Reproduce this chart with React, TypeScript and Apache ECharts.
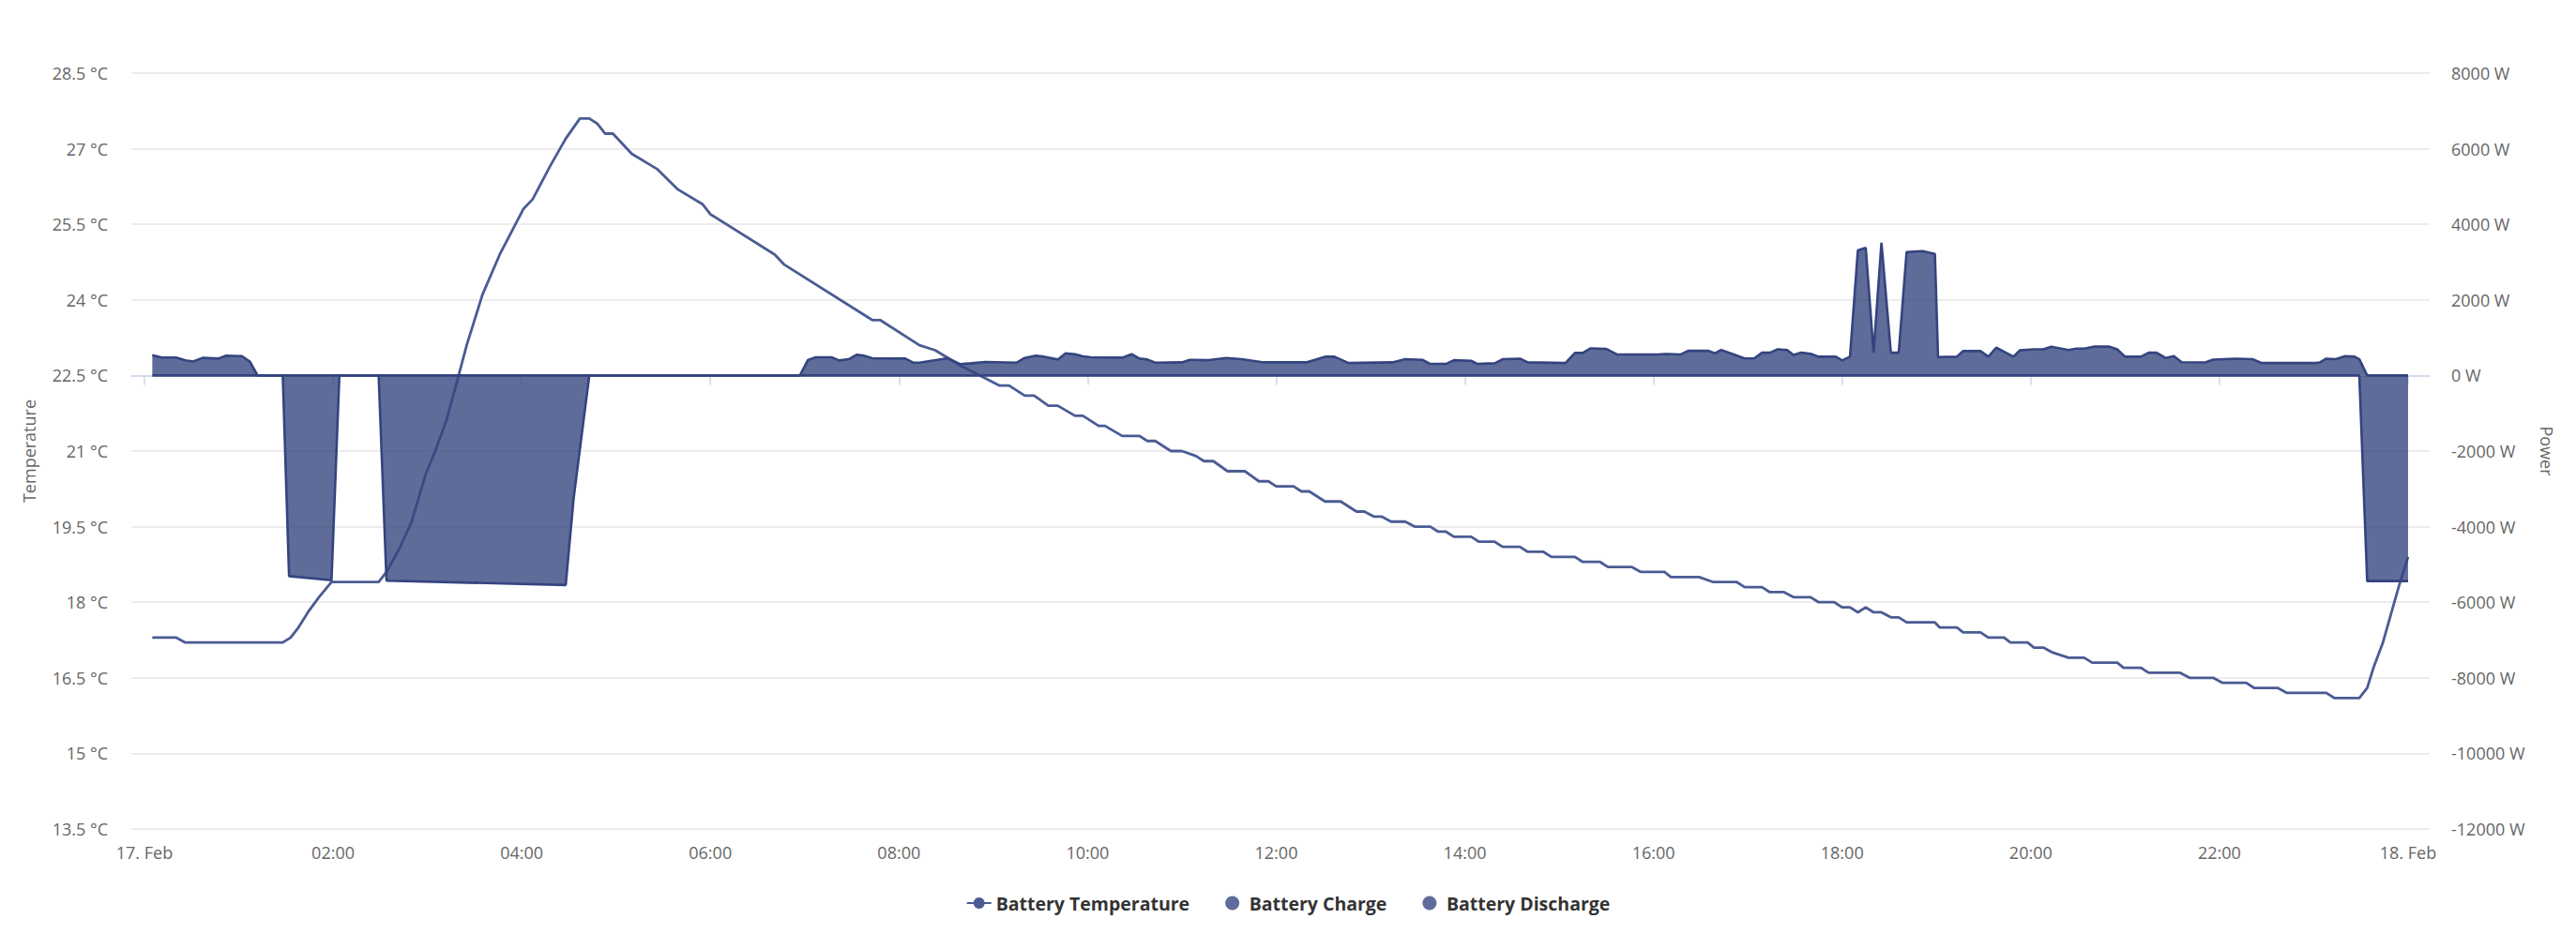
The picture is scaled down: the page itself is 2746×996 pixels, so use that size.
import React, { useEffect, useRef } from "react";
import * as echarts from "echarts";

// Battery temperature readings (time of day, °C)
const temperatureReadings: [string, number][] = [
  ["00:05", 17.3], ["00:20", 17.3], ["00:26", 17.2], ["01:28", 17.2], ["01:33", 17.3],
  ["01:38", 17.5], ["01:44", 17.8], ["01:51", 18.1], ["01:59", 18.4], ["02:29", 18.4],
  ["02:34", 18.6], ["02:42", 19.05], ["02:50", 19.6], ["02:59", 20.55], ["03:05", 21.0],
  ["03:12", 21.6], ["03:19", 22.4], ["03:25", 23.1], ["03:35", 24.1], ["03:46", 24.9],
  ["04:01", 25.8], ["04:07", 26.0], ["04:18", 26.65], ["04:28", 27.2], ["04:37", 27.6],
  ["04:43", 27.6], ["04:48", 27.5], ["04:53", 27.3], ["04:58", 27.3], ["05:10", 26.9],
  ["05:26", 26.6], ["05:39", 26.2], ["05:55", 25.9], ["06:00", 25.7], ["06:41", 24.9],
  ["06:47", 24.7], ["07:43", 23.6], ["07:48", 23.6], ["08:13", 23.1], ["08:23", 23.0],
  ["08:39", 22.7], ["09:04", 22.3], ["09:10", 22.3], ["09:20", 22.1], ["09:26", 22.1],
  ["09:35", 21.9], ["09:41", 21.9], ["09:52", 21.7], ["09:57", 21.7], ["10:07", 21.5],
  ["10:11", 21.5], ["10:22", 21.3], ["10:33", 21.3], ["10:38", 21.2], ["10:43", 21.2],
  ["10:53", 21.0], ["11:00", 21.0], ["11:09", 20.9], ["11:14", 20.8], ["11:20", 20.8],
  ["11:29", 20.6], ["11:40", 20.6], ["11:49", 20.4], ["11:55", 20.4], ["12:00", 20.3],
  ["12:11", 20.3], ["12:16", 20.2], ["12:21", 20.2], ["12:31", 20.0], ["12:41", 20.0],
  ["12:51", 19.8], ["12:56", 19.8], ["13:02", 19.7], ["13:07", 19.7], ["13:13", 19.6],
  ["13:22", 19.6], ["13:28", 19.5], ["13:38", 19.5], ["13:43", 19.4], ["13:48", 19.4],
  ["13:53", 19.3], ["14:04", 19.3], ["14:09", 19.2], ["14:19", 19.2], ["14:24", 19.1],
  ["14:35", 19.1], ["14:40", 19.0], ["14:50", 19.0], ["14:55", 18.9], ["15:10", 18.9],
  ["15:15", 18.8], ["15:26", 18.8], ["15:31", 18.7], ["15:46", 18.7], ["15:52", 18.6],
  ["16:07", 18.6], ["16:11", 18.5], ["16:29", 18.5], ["16:38", 18.4], ["16:53", 18.4],
  ["16:58", 18.3], ["17:09", 18.3], ["17:14", 18.2], ["17:23", 18.2], ["17:29", 18.1],
  ["17:40", 18.1], ["17:45", 18.0], ["17:55", 18.0], ["18:00", 17.9], ["18:05", 17.9],
  ["18:10", 17.8], ["18:15", 17.9], ["18:20", 17.8], ["18:25", 17.8], ["18:31", 17.7],
  ["18:36", 17.7], ["18:41", 17.6], ["18:59", 17.6], ["19:02", 17.5], ["19:13", 17.5],
  ["19:17", 17.4], ["19:28", 17.4], ["19:33", 17.3], ["19:43", 17.3], ["19:47", 17.2],
  ["19:58", 17.2], ["20:02", 17.1], ["20:08", 17.1], ["20:14", 17.0], ["20:24", 16.9],
  ["20:34", 16.9], ["20:39", 16.8], ["20:55", 16.8], ["20:59", 16.7], ["21:10", 16.7],
  ["21:15", 16.6], ["21:35", 16.6], ["21:41", 16.5], ["21:56", 16.5], ["22:02", 16.4],
  ["22:17", 16.4], ["22:22", 16.3], ["22:37", 16.3], ["22:43", 16.2], ["23:08", 16.2],
  ["23:13", 16.1], ["23:29", 16.1], ["23:34", 16.3], ["23:38", 16.7], ["23:44", 17.2],
  ["23:49", 17.75], ["23:54", 18.3], ["24:00", 18.9],
];

// Battery charge power (time of day, W)
const chargeReadings: [string, number][] = [
  ["00:05", 540], ["00:11", 475], ["00:20", 475], ["00:26", 400], ["00:31", 370],
  ["00:37", 466], ["00:47", 447], ["00:52", 523], ["01:02", 513], ["01:07", 370],
  ["01:12", 0], ["06:57", 0], ["07:02", 406], ["07:07", 480], ["07:17", 480],
  ["07:22", 397], ["07:28", 430], ["07:33", 547], ["07:37", 530], ["07:43", 455],
  ["08:04", 447], ["08:09", 340], ["08:13", 340], ["08:31", 455], ["08:39", 300],
  ["08:46", 323], ["08:55", 356], ["09:15", 340], ["09:20", 464], ["09:27", 522],
  ["09:31", 505], ["09:41", 422], ["09:46", 588], ["09:52", 563], ["09:57", 505],
  ["10:02", 480], ["10:22", 472], ["10:28", 563], ["10:33", 447], ["10:38", 422],
  ["10:43", 340], ["11:00", 347], ["11:05", 413], ["11:17", 405], ["11:28", 463],
  ["11:38", 430], ["11:52", 347], ["12:19", 347], ["12:31", 496], ["12:37", 496],
  ["12:46", 330], ["13:14", 347], ["13:22", 430], ["13:33", 413], ["13:38", 306],
  ["13:48", 306], ["13:53", 405], ["14:04", 388], ["14:08", 306], ["14:19", 322],
  ["14:24", 430], ["14:35", 446], ["14:40", 347], ["15:04", 330], ["15:10", 595],
  ["15:15", 595], ["15:20", 719], ["15:30", 702], ["15:37", 554], ["16:03", 554],
  ["16:07", 570], ["16:17", 554], ["16:22", 653], ["16:35", 653], ["16:39", 585],
  ["16:43", 674], ["16:49", 585], ["16:58", 452], ["17:04", 452], ["17:09", 603],
  ["17:14", 603], ["17:19", 692], ["17:25", 674], ["17:29", 541], ["17:34", 603],
  ["17:40", 576], ["17:45", 497], ["17:56", 497], ["18:00", 399], ["18:05", 497],
  ["18:10", 3308], ["18:15", 3379], ["18:20", 603], ["18:25", 3512], ["18:31", 603],
  ["18:36", 603], ["18:41", 3264], ["18:51", 3290], ["18:59", 3219], ["19:01", 488],
  ["19:13", 497], ["19:17", 647], ["19:28", 647], ["19:33", 497], ["19:38", 736],
  ["19:49", 497], ["19:53", 665], ["20:02", 692], ["20:08", 692], ["20:13", 763],
  ["20:24", 674], ["20:29", 710], ["20:34", 710], ["20:40", 763], ["20:50", 763],
  ["20:55", 692], ["21:00", 497], ["21:10", 497], ["21:15", 603], ["21:20", 603],
  ["21:26", 460], ["21:31", 513], ["21:36", 350], ["21:51", 345], ["21:56", 420],
  ["22:10", 445], ["22:21", 430], ["22:27", 330], ["23:01", 330], ["23:04", 347],
  ["23:08", 446], ["23:14", 430], ["23:20", 512], ["23:26", 496], ["23:29", 430],
  ["23:34", 0], ["24:00", 0],
];

// Battery discharge power (time of day, W)
const dischargeReadings: [string, number][] = [
  ["00:05", 0], ["01:28", 0], ["01:32", -5310], ["01:59", -5420], ["02:04", 0],
  ["02:29", 0], ["02:34", -5430], ["04:28", -5545], ["04:33", -3260], ["04:43", 0],
  ["23:29", 0], ["23:34", -5440], ["24:00", -5440],
];

const xTickHours = [0, 2, 4, 6, 8, 10, 12, 14, 16, 18, 20, 22, 24];
const dayStartLabel = "17. Feb";
const dayEndLabel = "18. Feb";
// axis extends a little beyond the day on both sides (as in the reference)
const xAxisMin = -0.139;
const xAxisMax = 24.229;

const toHour = (t: string) => {
  const [h, m] = t.split(":").map(Number);
  return h + m / 60;
};
const toPoints = (rows: [string, number][]) => rows.map(([t, v]) => [toHour(t), v]);

const FONT = "'Open Sans', 'Noto Sans', sans-serif";
const AREA_LINE = "#34447f";
const AREA_FILL = "#34447f";
const TEMP_LINE = "#4b5b93";

export default function App() {
  const ref = useRef<HTMLDivElement>(null);

  useEffect(() => {
    if (!ref.current) return;
    const chart = echarts.init(ref.current, undefined, { renderer: "svg" });
    chart.setOption({
      animation: false,
      backgroundColor: "#ffffff",
      textStyle: { fontFamily: FONT },
      grid: { left: 140, right: 156, top: 78, bottom: 112 },
      legend: {
        top: 948,
        left: "center",
        itemGap: 38,
        itemWidth: 26,
        itemHeight: 15,
        textStyle: { fontSize: 19.5, fontWeight: "bold", color: "#333333", fontFamily: FONT },
        data: [
          { name: "Battery Temperature" },
          { name: "Battery Charge", icon: "circle" },
          { name: "Battery Discharge", icon: "circle" },
        ],
      },
      xAxis: {
        type: "value",
        min: xAxisMin,
        max: xAxisMax,
        axisLine: { show: true, lineStyle: { color: "#ccd6eb", width: 1.5 } },
        axisTick: {
          show: true,
          length: 10,
          customValues: xTickHours,
          lineStyle: { color: "#ccd6eb", width: 1.5 },
        },
        splitLine: { show: false },
        axisLabel: {
          color: "#666666",
          fontSize: 18,
          margin: 16,
          fontFamily: FONT,
          customValues: xTickHours,
          formatter: (v: number) => {
            if (v === 0) return dayStartLabel;
            if (v === 24) return dayEndLabel;
            return String(v).padStart(2, "0") + ":00";
          },
        },
      },
      yAxis: [
        {
          type: "value",
          min: 13.5,
          max: 28.5,
          interval: 1.5,
          name: "Temperature",
          nameLocation: "middle",
          nameGap: 100,
          nameTextStyle: { color: "#666666", fontSize: 18, fontFamily: FONT },
          axisLine: { show: false },
          axisTick: { show: false },
          splitLine: { show: true, lineStyle: { color: "#e6e6e6", width: 1.5 } },
          axisLabel: {
            color: "#666666",
            fontSize: 18,
            margin: 25,
            fontFamily: FONT,
            formatter: (v: number) => `${v} °C`,
          },
        },
        {
          type: "value",
          position: "right",
          min: -12000,
          max: 8000,
          interval: 2000,
          name: "Power",
          nameLocation: "middle",
          nameRotate: -90,
          nameGap: 116,
          nameTextStyle: { color: "#666666", fontSize: 18, fontFamily: FONT },
          axisLine: { show: false },
          axisTick: { show: false },
          splitLine: { show: false },
          axisLabel: {
            color: "#666666",
            fontSize: 18,
            margin: 23,
            fontFamily: FONT,
            formatter: (v: number) => `${v} W`,
          },
        },
      ],
      series: [
        {
          name: "Battery Temperature",
          type: "line",
          yAxisIndex: 0,
          data: toPoints(temperatureReadings),
          symbol: "circle",
          symbolSize: 10,
          showSymbol: false,
          color: TEMP_LINE,
          lineStyle: { color: TEMP_LINE, width: 2.8 },
          z: 2,
        },
        {
          name: "Battery Charge",
          type: "line",
          yAxisIndex: 1,
          data: toPoints(chargeReadings),
          showSymbol: false,
          symbol: "circle",
          color: "#5f6c9b",
          lineStyle: { color: AREA_LINE, width: 2.6 },
          areaStyle: { color: AREA_FILL, opacity: 0.79 },
          z: 3,
        },
        {
          name: "Battery Discharge",
          type: "line",
          yAxisIndex: 1,
          data: toPoints(dischargeReadings),
          showSymbol: false,
          symbol: "circle",
          color: "#5f6c9b",
          lineStyle: { color: AREA_LINE, width: 2.6 },
          areaStyle: { color: AREA_FILL, opacity: 0.79 },
          z: 3,
        },
      ],
    });
    return () => chart.dispose();
  }, []);

  return (
    <div
      ref={ref}
      style={{ position: "absolute", left: 0, top: 0, width: 2746, height: 996 }}
    />
  );
}
